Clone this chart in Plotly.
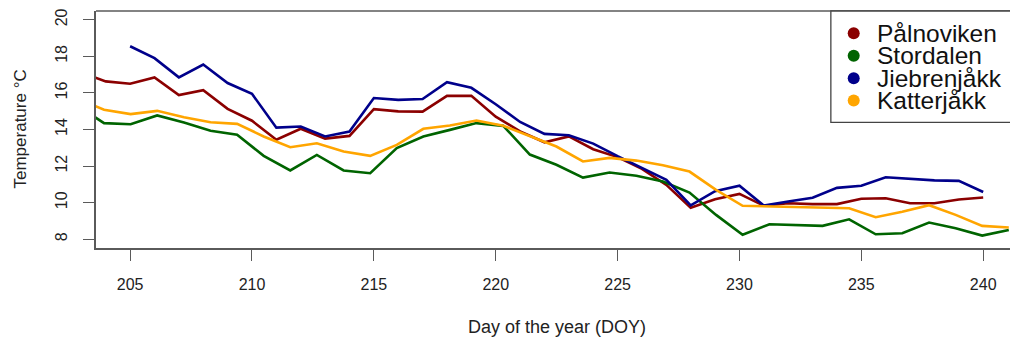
import plotly.graph_objects as go

# Daily mean air temperature at four sites, by day of the year
doy_daily = list(range(203, 241))
palnoviken = [17.1, 16.63, 16.5, 16.85, 15.88, 16.15, 15.13, 14.48, 13.44, 14.04,
              13.5, 13.65, 15.11, 14.99, 14.98, 15.84, 15.84, 14.7, 13.9, 13.3,
              13.62, 12.92, 12.49, 11.85, 10.97, 9.72, 10.19, 10.48, 9.83, 9.97,
              9.92, 9.92, 10.21, 10.24, 9.97, 9.97, 10.17, 10.28]

doy_jiebren = list(range(205, 241))
jiebrenjakk = [18.55, 17.9, 16.85, 17.55, 16.54, 15.95, 14.1, 14.16, 13.62, 13.89,
               15.72, 15.62, 15.67, 16.59, 16.28, 15.38, 14.41, 13.76, 13.69, 13.23,
               12.54, 11.89, 11.25, 9.85, 10.63, 10.93, 9.84, 10.06, 10.27, 10.81,
               10.92, 11.39, 11.3, 11.22, 11.19, 10.58]

# Stordalen and Katterjåkk share their own time stamps
doy_logger = [202.84, 203.93, 205.02, 206.11, 207.21, 208.30, 209.39, 210.48, 211.57,
              212.66, 213.76, 214.85, 215.94, 217.03, 218.12, 219.21, 220.31, 221.40,
              222.49, 223.58, 224.67, 225.77, 226.86, 227.95, 229.04, 230.13, 231.23,
              232.32, 233.41, 234.50, 235.59, 236.68, 237.78, 238.87, 239.96, 241.05]
stordalen = [15.3, 14.35, 14.29, 14.77, 14.38, 13.93, 13.71, 12.56, 11.76, 12.61,
             11.76, 11.61, 12.98, 13.62, 13.98, 14.35, 14.2, 12.63, 12.07, 11.37,
             11.65, 11.47, 11.16, 10.55, 9.33, 8.24, 8.82, 8.79, 8.73, 9.09,
             8.27, 8.33, 8.91, 8.6, 8.2, 8.51]
katterjakk = [15.7, 15.08, 14.84, 15.02, 14.67, 14.4, 14.31, 13.62, 13.03, 13.25,
              12.8, 12.56, 13.16, 14.04, 14.22, 14.49, 14.2, 13.62, 13.07, 12.25,
              12.45, 12.3, 12.05, 11.7, 10.7, 9.83, 9.79, 9.75, 9.7, 9.69,
              9.2, 9.5, 9.86, 9.33, 8.73, 8.64]

x_ticks = [205, 210, 215, 220, 225, 230, 235, 240]
y_ticks = [8, 10, 12, 14, 16, 18, 20]

site_names = ["Pålnoviken", "Stordalen", "Jiebrenjåkk", "Katterjåkk"]
site_colors = ["#8B0000", "#006400", "#00008B", "#FFA500"]

series = [
    (doy_daily, palnoviken),
    (doy_logger, stordalen),
    (doy_jiebren, jiebrenjakk),
    (doy_logger, katterjakk),
]

FONT = "Liberation Sans, Arial, Helvetica, sans-serif"
AXIS_COL = "#5a5a5a"

fig = go.Figure()
for (xs, ys), name, col in zip(series, site_names, site_colors):
    fig.add_trace(go.Scatter(x=xs, y=ys, mode="lines", name=name,
                             line=dict(color=col, width=2.6), showlegend=False))

fig.update_layout(
    width=1010, height=338,
    margin=dict(l=96, r=0, t=11, b=90),
    paper_bgcolor="white", plot_bgcolor="white",
    font=dict(family=FONT, color="#222"),
)
fig.update_xaxes(
    range=[203.6, 241.1], tickvals=x_ticks, ticks="outside", ticklen=11,
    tickwidth=1.2, tickcolor=AXIS_COL, showline=True, linecolor=AXIS_COL,
    linewidth=1.5, showgrid=False, zeroline=False,
    tickfont=dict(size=16, family=FONT, color="#222"), ticklabelstandoff=10,
)
fig.update_yaxes(
    range=[7.52, 20.48], tickvals=y_ticks, ticks="outside", ticklen=11,
    tickwidth=1.2, tickcolor=AXIS_COL, showline=True, linecolor=AXIS_COL,
    linewidth=1.5, showgrid=False, zeroline=False, tickangle=-90,
    tickfont=dict(size=16, family=FONT, color="#222"), ticklabelstandoff=10,
)

# top edge of the plot frame
fig.add_shape(type="line", xref="paper", yref="paper", x0=0, x1=1.05, y0=1, y1=1,
              line=dict(color=AXIS_COL, width=1.5))

# axis titles
fig.add_annotation(text="Day of the year (DOY)", xref="paper", yref="paper",
                   x=0.504, y=0, yshift=-79, xanchor="center", yanchor="middle",
                   showarrow=False, font=dict(size=18, family=FONT, color="#222"))
fig.add_annotation(text="Temperature °C", xref="paper", yref="paper",
                   x=0, y=0.5, xshift=-76, xanchor="center", yanchor="middle",
                   textangle=-90, showarrow=False,
                   font=dict(size=17, family=FONT, color="#222"))

# legend box with filled dots
fig.add_shape(type="rect", xref="paper", yref="paper", x0=0.804, x1=1.05,
              y0=0.530, y1=1.0, fillcolor="white",
              line=dict(color="#444", width=1.3), layer="above")
legend_y = [0.906, 0.811, 0.716, 0.622]
for name, col, ly in zip(site_names, site_colors, legend_y):
    fig.add_shape(type="circle", xref="paper", yref="paper",
                  xsizemode="pixel", ysizemode="pixel", xanchor=0.829, yanchor=ly,
                  x0=-6, x1=6, y0=-6, y1=6, fillcolor=col,
                  line=dict(color=col, width=0), layer="above")
    fig.add_annotation(text=name, xref="paper", yref="paper", x=0.852, y=ly,
                       xanchor="left", yanchor="middle", showarrow=False,
                       font=dict(size=24.5, family=FONT, color="#111"))

fig.write_html("out.html")
